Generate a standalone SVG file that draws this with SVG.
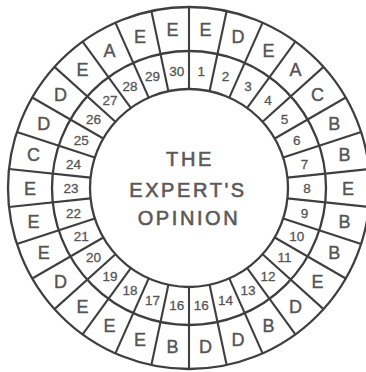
<svg xmlns="http://www.w3.org/2000/svg" xmlns:xlink="http://www.w3.org/1999/xlink" width="366" height="372" viewBox="0 0 366 372">
<style>
.ring{fill:none;stroke:#3f3f3f;stroke-width:2.3}
.sp{stroke:#3f3f3f;stroke-width:2.1}
.L{font-family:"Liberation Sans","DejaVu Sans",sans-serif;font-size:18px;fill:#555;stroke:#555;stroke-width:0.4;text-anchor:middle}
.N{font-family:"Liberation Sans","DejaVu Sans",sans-serif;font-size:13.5px;fill:#555;stroke:#555;stroke-width:0.3;text-anchor:middle}
.T{font-family:"Liberation Sans","DejaVu Sans",sans-serif;font-size:20px;fill:#5a5a5a;stroke:#5a5a5a;stroke-width:0.6;text-anchor:middle;letter-spacing:2.6px}
</style>
<defs>
<line id="spoke" class="sp" x1="189" y1="7" x2="189" y2="89"/>
</defs>
<rect width="366" height="372" fill="#fff"/>
<g id="connectors">
<circle class="ring" cx="189" cy="188" r="181"/>
<circle class="ring" cx="189" cy="188" r="137"/>
<circle class="ring" cx="189" cy="188" r="99"/>
<use xlink:href="#spoke"/>
<use xlink:href="#spoke" transform="rotate(12 189 188)"/>
<use xlink:href="#spoke" transform="rotate(24 189 188)"/>
<use xlink:href="#spoke" transform="rotate(36 189 188)"/>
<use xlink:href="#spoke" transform="rotate(48 189 188)"/>
<use xlink:href="#spoke" transform="rotate(60 189 188)"/>
<use xlink:href="#spoke" transform="rotate(72 189 188)"/>
<use xlink:href="#spoke" transform="rotate(84 189 188)"/>
<use xlink:href="#spoke" transform="rotate(96 189 188)"/>
<use xlink:href="#spoke" transform="rotate(108 189 188)"/>
<use xlink:href="#spoke" transform="rotate(120 189 188)"/>
<use xlink:href="#spoke" transform="rotate(132 189 188)"/>
<use xlink:href="#spoke" transform="rotate(144 189 188)"/>
<use xlink:href="#spoke" transform="rotate(156 189 188)"/>
<use xlink:href="#spoke" transform="rotate(168 189 188)"/>
<use xlink:href="#spoke" transform="rotate(180 189 188)"/>
<use xlink:href="#spoke" transform="rotate(192 189 188)"/>
<use xlink:href="#spoke" transform="rotate(204 189 188)"/>
<use xlink:href="#spoke" transform="rotate(216 189 188)"/>
<use xlink:href="#spoke" transform="rotate(228 189 188)"/>
<use xlink:href="#spoke" transform="rotate(240 189 188)"/>
<use xlink:href="#spoke" transform="rotate(252 189 188)"/>
<use xlink:href="#spoke" transform="rotate(264 189 188)"/>
<use xlink:href="#spoke" transform="rotate(276 189 188)"/>
<use xlink:href="#spoke" transform="rotate(288 189 188)"/>
<use xlink:href="#spoke" transform="rotate(300 189 188)"/>
<use xlink:href="#spoke" transform="rotate(312 189 188)"/>
<use xlink:href="#spoke" transform="rotate(324 189 188)"/>
<use xlink:href="#spoke" transform="rotate(336 189 188)"/>
<use xlink:href="#spoke" transform="rotate(348 189 188)"/>
</g>
<g id="center">
<text class="T" x="190" y="166">THE</text>
<text class="T" x="188" y="197">EXPERT'S</text>
<text class="T" x="189" y="225">OPINION</text>
</g>
<g id="cell1"><text class="N" x="201.3" y="75.6">1</text><text class="L" x="205.6" y="36.4">E</text></g>
<g id="cell2"><text class="N" x="225.5" y="80.8">2</text><text class="L" x="238.1" y="43.3">D</text></g>
<g id="cell3"><text class="N" x="248" y="90.8">3</text><text class="L" x="268.5" y="56.8">E</text></g>
<g id="cell4"><text class="N" x="268" y="105.3">4</text><text class="L" x="295.4" y="76.3">A</text></g>
<g id="cell5"><text class="N" x="284.5" y="123.6">5</text><text class="L" x="317.6" y="101">C</text></g>
<g id="cell6"><text class="N" x="296.8" y="145">6</text><text class="L" x="334.2" y="129.8">B</text></g>
<g id="cell7"><text class="N" x="304.4" y="168.5">7</text><text class="L" x="344.5" y="161.4">B</text></g>
<g id="cell8"><text class="N" x="307" y="193">8</text><text class="L" x="348" y="194.5">E</text></g>
<g id="cell9"><text class="N" x="304.4" y="217.5">9</text><text class="L" x="344.5" y="227.6">B</text></g>
<g id="cell10"><text class="N" x="296.8" y="241">10</text><text class="L" x="334.2" y="259.2">B</text></g>
<g id="cell11"><text class="N" x="284.5" y="262.4">11</text><text class="L" x="317.6" y="288">E</text></g>
<g id="cell12"><text class="N" x="268" y="280.7">12</text><text class="L" x="295.4" y="312.7">D</text></g>
<g id="cell13"><text class="N" x="248" y="295.2">13</text><text class="L" x="268.5" y="332.2">B</text></g>
<g id="cell14"><text class="N" x="225.5" y="305.2">14</text><text class="L" x="238.1" y="345.7">D</text></g>
<g id="cell15"><text class="N" x="201.3" y="310.4">16</text><text class="L" x="205.6" y="352.6">D</text></g>
<g id="cell16"><text class="N" x="176.7" y="310.4">16</text><text class="L" x="172.4" y="352.6">B</text></g>
<g id="cell17"><text class="N" x="152.5" y="305.2">17</text><text class="L" x="139.9" y="345.7">E</text></g>
<g id="cell18"><text class="N" x="130" y="295.2">18</text><text class="L" x="109.5" y="332.2">E</text></g>
<g id="cell19"><text class="N" x="110" y="280.7">19</text><text class="L" x="82.6" y="312.7">E</text></g>
<g id="cell20"><text class="N" x="93.5" y="262.4">20</text><text class="L" x="60.4" y="288">D</text></g>
<g id="cell21"><text class="N" x="81.2" y="241">21</text><text class="L" x="43.8" y="259.2">E</text></g>
<g id="cell22"><text class="N" x="73.6" y="217.5">22</text><text class="L" x="33.5" y="227.6">E</text></g>
<g id="cell23"><text class="N" x="71" y="193">23</text><text class="L" x="30" y="194.5">E</text></g>
<g id="cell24"><text class="N" x="73.6" y="168.5">24</text><text class="L" x="33.5" y="161.4">C</text></g>
<g id="cell25"><text class="N" x="81.2" y="145">25</text><text class="L" x="43.8" y="129.8">D</text></g>
<g id="cell26"><text class="N" x="93.5" y="123.6">26</text><text class="L" x="60.4" y="101">D</text></g>
<g id="cell27"><text class="N" x="110" y="105.3">27</text><text class="L" x="82.6" y="76.3">E</text></g>
<g id="cell28"><text class="N" x="130" y="90.8">28</text><text class="L" x="109.5" y="56.8">A</text></g>
<g id="cell29"><text class="N" x="152.5" y="80.8">29</text><text class="L" x="139.9" y="43.3">E</text></g>
<g id="cell30"><text class="N" x="176.7" y="75.6">30</text><text class="L" x="172.4" y="36.4">E</text></g>
</svg>
